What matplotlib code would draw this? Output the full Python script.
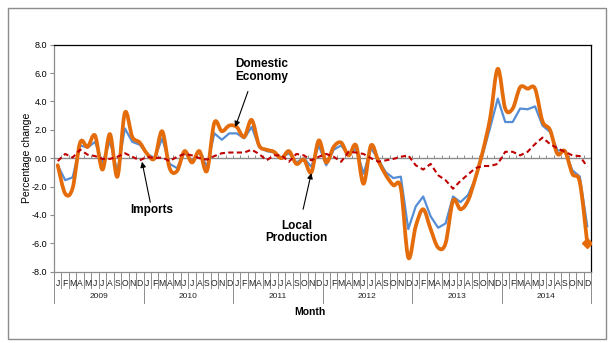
import numpy as np
import matplotlib.pyplot as plt
import matplotlib.transforms as mtransforms
from matplotlib.path import Path
from matplotlib.patches import PathPatch, Rectangle

plt.rcParams['font.family'] = ['Liberation Sans', 'DejaVu Sans']

years = ['2009', '2010', '2011', '2012', '2013', '2014']
month_letters = ['J', 'F', 'M', 'A', 'M', 'J', 'J', 'A', 'S', 'O', 'N', 'D']

local_production = [
    -0.5, -2.5, -2.1, 1.1, 0.8, 1.6, -0.8, 1.7, -1.3, 3.2, 1.5, 1.1,
    0.3, 0.0, 1.9, -0.7, -0.9, 0.5, -0.3, 0.5, -0.9, 2.5, 1.9, 2.3,
    2.2, 1.5, 2.7, 0.9, 0.6, 0.45, 0.0, 0.5, -0.4, -0.1, -1.0, 1.25,
    -0.3, 0.8, 1.1, 0.2, 0.9, -1.8, 0.9, -0.2, -1.2, -1.9, -2.1, -7.0,
    -4.8, -3.6, -5.0, -6.3, -6.0, -3.0, -3.6, -3.0, -1.4, 0.5, 2.9, 6.3,
    3.5, 3.5, 5.0, 4.9, 4.9, 2.6, 2.0, 0.3, 0.5, -1.1, -1.7, -6.0,
]
domestic_economy = [
    -0.5, -1.55, -1.35, 0.9, 0.75, 1.15, -0.3, 1.2, -0.95, 2.1, 1.15, 0.95,
    0.3, 0.0, 1.4, -0.4, -0.7, 0.4, -0.2, 0.45, -0.6, 1.75, 1.3, 1.75,
    1.75, 1.4, 2.2, 0.8, 0.5, 0.4, 0.05, 0.35, -0.3, 0.0, -0.6, 0.9,
    -0.5, 0.6, 0.9, 0.2, 0.7, -1.1, 0.7, -0.1, -1.0, -1.4, -1.3, -5.0,
    -3.4, -2.7, -4.1, -4.9, -4.6, -2.7, -3.1, -2.6, -1.45, 0.3, 2.2, 4.2,
    2.55, 2.55, 3.5, 3.45, 3.65, 2.3, 1.85, 0.55, 0.55, -0.85, -1.3, -4.8,
]
imports = [
    -0.2, 0.3, 0.05, 0.6, 0.25, 0.15, -0.05, -0.05, 0.1, 0.35, 0.1, -0.15,
    0.1, 0.0, 0.05, -0.2, 0.1, 0.3, 0.2, 0.0, -0.1, 0.15, 0.35, 0.4,
    0.4, 0.4, 0.6, 0.3, -0.15, 0.2, 0.2, -0.25, 0.3, 0.2, -0.15, 0.1,
    0.3, 0.1, -0.25, 0.45, 0.4, 0.3, 0.0, -0.25, -0.15, -0.05, 0.1, 0.2,
    -0.5, -0.8, -0.4, -1.2, -1.55, -2.15, -1.6, -1.15, -0.7, -0.55, -0.55, -0.4,
    0.45, 0.45, 0.2, 0.45, 1.0, 1.45, 1.0, 0.7, 0.45, 0.2, 0.15, -0.6,
]

ORANGE = '#E46C0A'
BLUE = '#558ED5'
RED = '#C00000'
GREY = '#8C8C8C'


def smooth_path(x, y):
    # Bezier segments through every point, like a spreadsheet "smoothed line"
    n = len(x)
    verts = [(x[0], y[0])]
    codes = [Path.MOVETO]
    for i in range(n - 1):
        i0 = max(i - 1, 0)
        i3 = min(i + 2, n - 1)
        c1 = (x[i] + (x[i + 1] - x[i0]) / 6., y[i] + (y[i + 1] - y[i0]) / 6.)
        c2 = (x[i + 1] - (x[i3] - x[i]) / 6., y[i + 1] - (y[i3] - y[i]) / 6.)
        verts += [c1, c2, (x[i + 1], y[i + 1])]
        codes += [Path.CURVE4] * 3
    return Path(verts, codes)


fig = plt.figure(figsize=(6.16, 3.43), dpi=100)
ax = fig.add_axes([54 / 616, 1 - 271.7 / 343, 537 / 616, 227 / 343])

x = np.arange(len(local_production))
ax.set_xlim(-0.5, len(x) - 0.5)
ax.set_ylim(-8, 8)
ax.set_yticks(np.arange(-8, 9, 2))
ax.set_yticklabels(['%.1f' % v for v in np.arange(-8, 9, 2)], fontsize=6.5)
ax.set_xticks([])
ax.tick_params(axis='y', length=3, width=0.8, color=GREY, pad=2)

for side in ['left', 'bottom']:
    ax.spines[side].set_color(GREY)
for side in ['top', 'right']:
    ax.spines[side].set_color('black')
for sp in ax.spines.values():
    sp.set_linewidth(0.9)

# zero line with category ticks
ax.axhline(0, color=GREY, lw=1.0, zorder=1)
bounds = np.arange(-0.5, len(x), 1)
ax.vlines(bounds, 0, 0.2, color=GREY, lw=0.7, zorder=1)

# series
ax.plot(x, domestic_economy, color=BLUE, lw=1.6, zorder=3)
ax.add_patch(PathPatch(smooth_path(x, np.array(local_production)), facecolor='none',
                       edgecolor=ORANGE, lw=2.7, capstyle='round', joinstyle='round', zorder=4))
ax.plot(x[-1], local_production[-1], marker='D', ms=5, color=ORANGE, zorder=5)
ax.plot(x, imports, color=RED, lw=1.5, dashes=(2.5, 1.6), zorder=5)

# month / year category labels under the plot
trans = mtransforms.blended_transform_factory(ax.transData, ax.transAxes)
for i in x:
    ax.text(i, -0.05, month_letters[i % 12], transform=trans, ha='center', va='center',
            fontsize=6.2, color='#222222')
for b in bounds:
    is_year = abs((b + 0.5) % 12) < 1e-6
    ax.plot([b, b], [0, -0.136 if is_year else -0.07], transform=trans, color=GREY,
            lw=0.7, clip_on=False)
for k, yr in enumerate(years):
    ax.text(12 * k + 5.5, -0.111, yr, transform=trans, ha='center', va='center',
            fontsize=6, color='#222222')

fig.text(310 / 616, 1 - 312 / 343, 'Month', ha='center', va='center',
         fontsize=7.5, fontweight='bold')
fig.text(27 / 616, 1 - 158 / 343, 'Percentage change', rotation=90,
         ha='center', va='center', fontsize=7.5)

# callouts
arrow = dict(arrowstyle='-|>', color='black', lw=0.8, mutation_scale=8, shrinkA=0, shrinkB=0)
ax.annotate('', xy=(23.8, 2.2), xytext=(25.5, 4.7), arrowprops=arrow, zorder=6)
ax.text(27.4, 6.2, 'Domestic\nEconomy', ha='center', va='center', fontsize=8.5,
        fontweight='bold', linespacing=1.1)
ax.annotate('', xy=(11.3, -0.25), xytext=(12.4, -3.1), arrowprops=arrow, zorder=6)
ax.text(12.6, -3.65, 'Imports', ha='center', va='center', fontsize=8.5, fontweight='bold')
ax.annotate('', xy=(34.0, -1.05), xytext=(32.9, -3.6), arrowprops=arrow, zorder=6)
ax.text(32.0, -5.2, 'Local\nProduction', ha='center', va='center', fontsize=8.5,
        fontweight='bold', linespacing=1.1)

fig.patches.append(Rectangle((8 / 616, 4 / 343), 598 / 616, 331 / 343, transform=fig.transFigure,
                             fill=False, edgecolor='#8C8C8C', lw=1.0))

fig.savefig('out.png', dpi=100)
